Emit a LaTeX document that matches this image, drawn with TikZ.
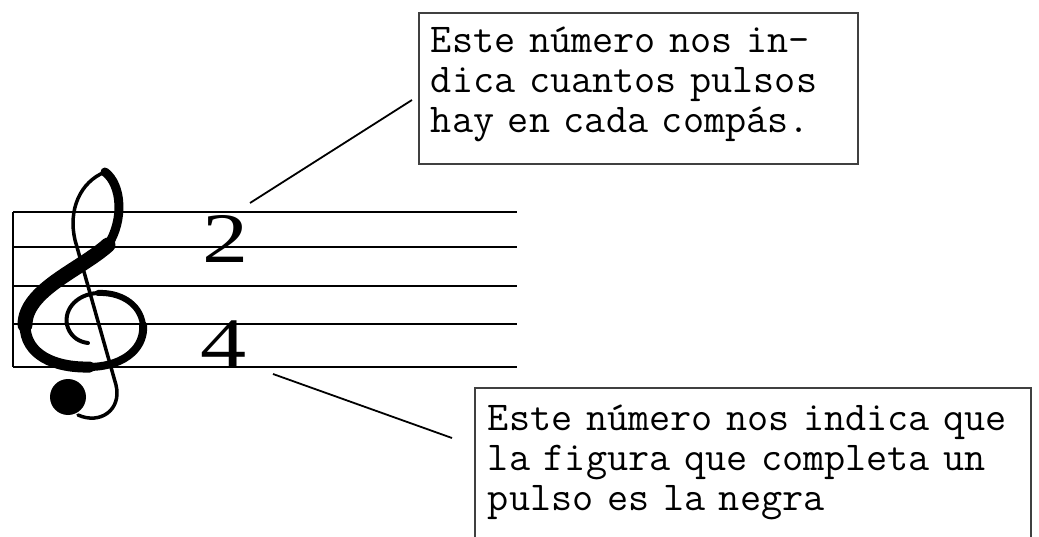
\documentclass[tikz,border=0pt]{standalone}
\usepackage{fontspec}
\newfontfamily\digitfont{Liberation Serif}
\usetikzlibrary{positioning}

\begin{document}
\begin{tikzpicture}[
    x=1pt, y=-1pt,
    staffline/.style={line width=2.8pt},
    note/.style={rectangle, draw=black!75, line width=1.8pt, anchor=base west, align=left, font=\ttfamily\fontsize{41}{40}\selectfont, text height=21pt},
    digit/.style={anchor=base, inner sep=0pt, font=\digitfont\fontsize{71}{71}\selectfont},
    leader/.style={line width=1.8pt},
    clef/.style={line cap=round, line join=round}
]
\useasboundingbox (0,0) rectangle (1039,537);
\clip (0,0) rectangle (1039,537);

% staff
\foreach \y in {212,247,286,324,367}
    \draw[staffline] (13,\y) -- (517,\y);
\draw[staffline] (13,212) -- (13,367);

% treble clef
\draw[clef, line width=3.5pt] (105,172) .. controls (80,182) and (68,210) .. (75,240) -- (116,385) .. controls (122,410) and (100,425) .. (78,415);
\fill (68,397) circle (18pt);
\draw[clef, line width=9pt] (105,172) .. controls (122,185) and (124,220) .. (108,245);
\draw[clef, line width=15pt] (108,245) .. controls (80,270) and (25,290) .. (25,325);
\draw[clef, line width=11pt] (25,325) .. controls (25,355) and (55,368) .. (90,367);
\draw[clef, line width=8pt] (90,367) .. controls (128,366) and (145,345) .. (143,325);
\draw[clef, line width=6pt] (143,325) .. controls (140,302) and (118,292) .. (98,293);
\draw[clef, line width=4pt] (98,293) .. controls (75,294) and (62,312) .. (68,328) .. controls (72,338) and (80,342) .. (88,343);

% time signature
\node[digit] (num2) at (226,263) {\scalebox{1.3}[1]{2}};
\node[digit] (num4) at (224,367) {\scalebox{1.3}[1]{4}};

% explanations
\node[note, text width=415pt, inner xsep=12pt, inner ysep=19pt, text depth=92pt] (boxtop) at (418,53)
    {Este número nos in-\\dica cuantos pulsos\\hay en cada compás.};
\node[note, text width=530pt, inner xsep=13pt, inner ysep=21pt, text depth=120pt] (boxbot) at (474,430)
    {Este número nos indica que\\la figura que completa un\\pulso es la negra};

\coordinate (p2) at (250,203);
\coordinate (p4) at (273,374);
\draw[leader] (p2) -- ([shift={(-6,11.5)}]boxtop.west);
\draw[leader] (p4) -- ([shift={(-22,-41.5)}]boxbot.west);
\end{tikzpicture}
\end{document}
